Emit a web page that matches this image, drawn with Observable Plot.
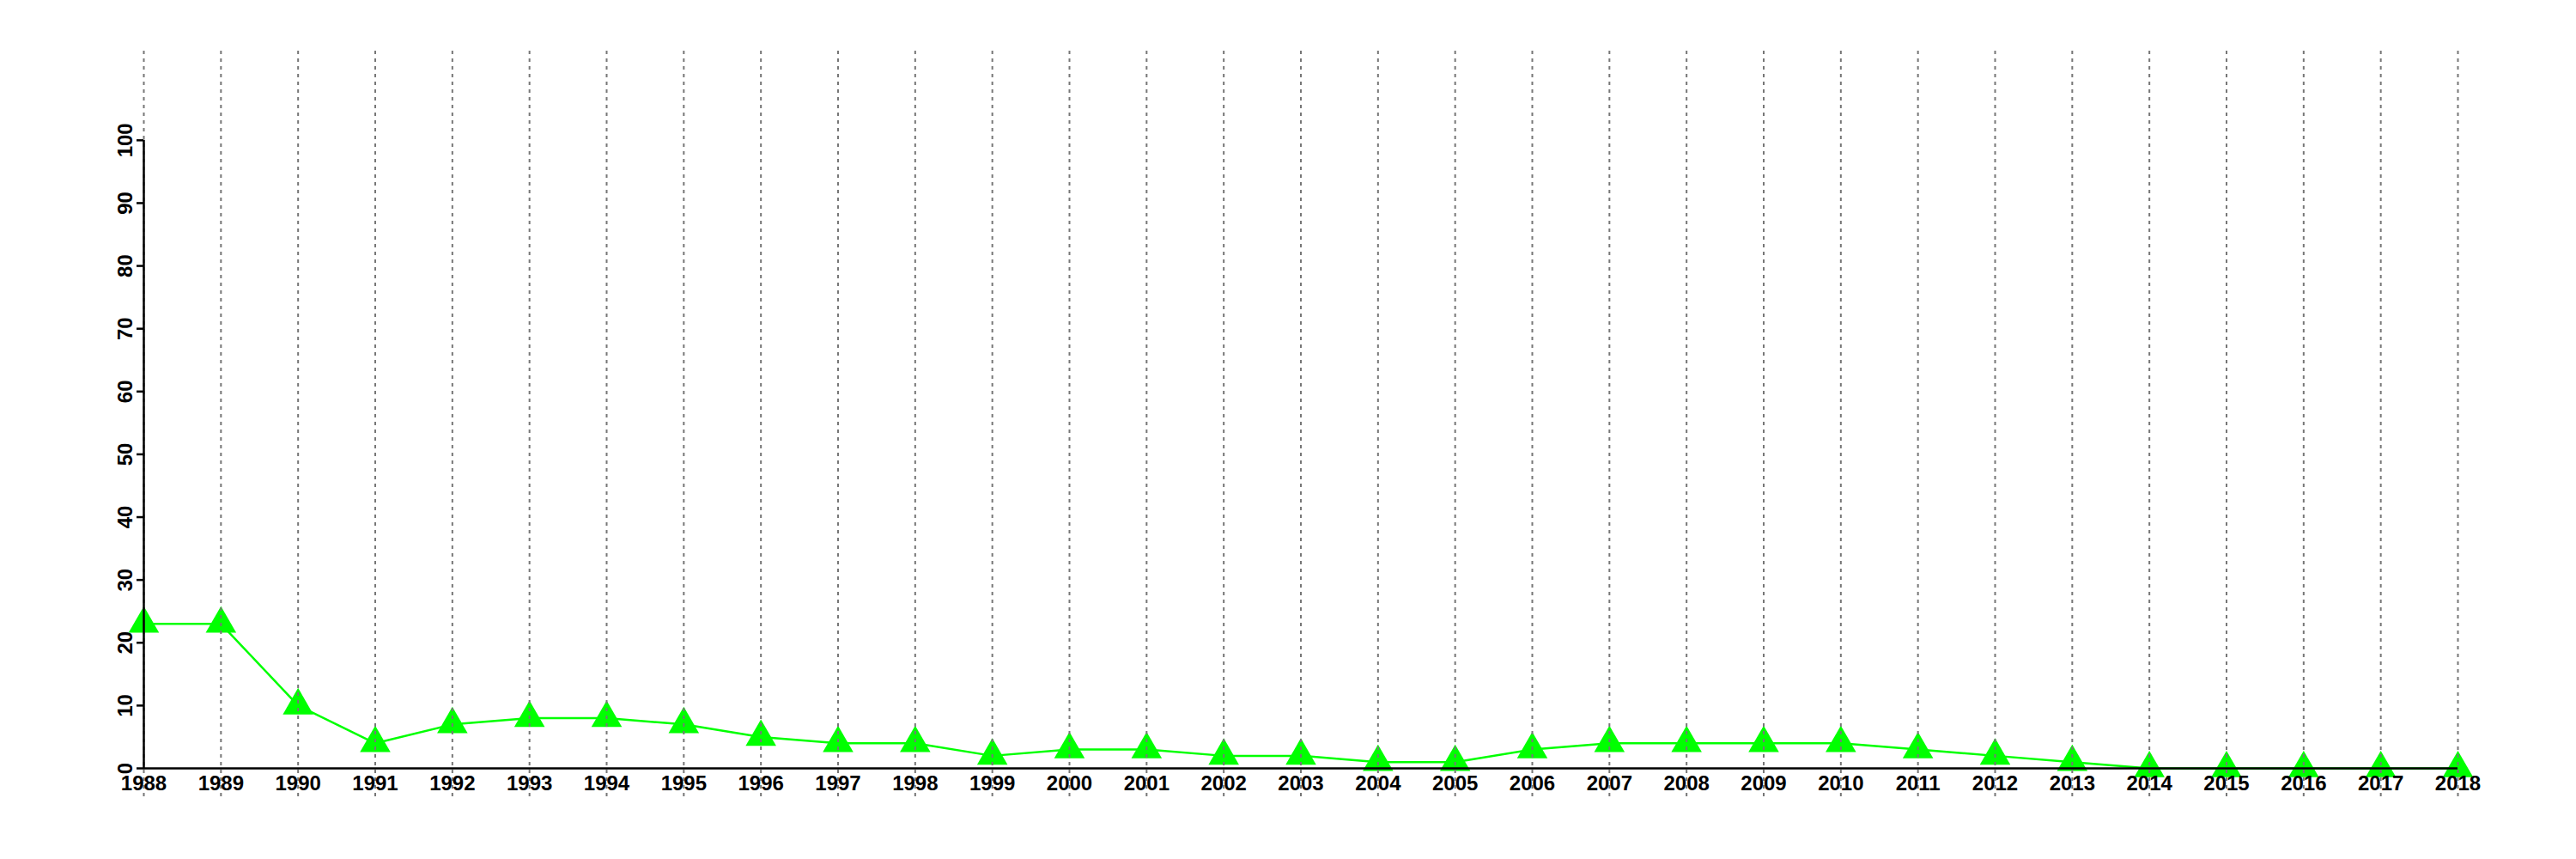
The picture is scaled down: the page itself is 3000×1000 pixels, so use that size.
<!DOCTYPE html>
<html>
<head>
<meta charset="utf-8">
<script src="https://cdn.jsdelivr.net/npm/d3@7"></script>
<script src="https://cdn.jsdelivr.net/npm/@observablehq/plot@0.6"></script>
<style>
  html, body { margin: 0; padding: 0; background: #fff; overflow: hidden; }
</style>
</head>
<body>
<div id="chart"></div>
<script>
const years = [1988,1989,1990,1991,1992,1993,1994,1995,1996,1997,1998,1999,2000,2001,2002,2003,2004,2005,2006,2007,2008,2009,2010,2011,2012,2013,2014,2015,2016,2017,2018];
const values = [23,23,10,4,7,8,8,7,5,4,4,2,3,3,2,2,1,1,3,4,4,4,4,3,2,1,0,0,0,0,0];
const yTicks = [0,10,20,30,40,50,60,70,80,90,100];

const data = years.map((y, i) => ({year: y, value: values[i]}));
const font = "'Liberation Sans', Arial, Helvetica, sans-serif";

const chart = Plot.plot({
  width: 3000,
  height: 1000,
  marginLeft: 167,
  marginRight: 138,
  marginTop: 59,
  marginBottom: 72,
  style: {fontFamily: font, fontSize: "24px", fontWeight: "bold", color: "#000", background: "#fff"},
  x: {type: "linear", domain: [years[0], years[years.length - 1]], axis: null},
  y: {type: "linear", domain: [-4.65, 114.2], axis: null},
  marks: [
    Plot.line(data, {x: "year", y: "value", stroke: "#00ff00", strokeWidth: 2.5}),
    Plot.dot(data, {x: "year", y: "value", symbol: "triangle", r: 13.2, fill: "#00ff00", stroke: "none"}),
    Plot.ruleX(years, {x: d => d, stroke: "#777", strokeWidth: 2, strokeDasharray: "4,5"}),
    Plot.ruleX([years[0]], {x: d => d, y1: yTicks[0], y2: yTicks[yTicks.length - 1], stroke: "#000", strokeWidth: 2.5}),
    Plot.ruleY([0], {y: d => d, x1: years[0], x2: years[years.length - 1], stroke: "#000", strokeWidth: 2.5}),
    Plot.axisY({ticks: yTicks, label: null, tickSize: 8, tickPadding: 6, tickRotate: -90, stroke: "#000", strokeWidth: 2.5, tickFormat: d => String(d), fontSize: 24, fontWeight: "bold"}),
    Plot.text(years, {x: d => d, y: () => 0, text: d => String(d), dy: 18, fontSize: 24, fontWeight: "bold", fill: "#000"})
  ]
});
document.getElementById("chart").appendChild(chart);
</script>
</body>
</html>
